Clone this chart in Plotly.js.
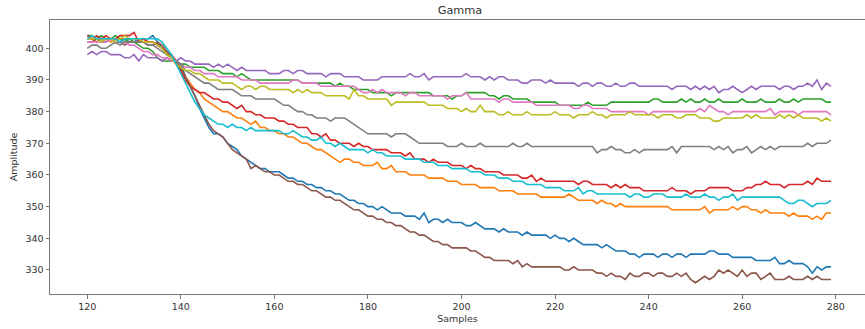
<!DOCTYPE html>
<html>
<head>
<meta charset="utf-8">
<script src="https://cdn.plot.ly/plotly-3.0.1.min.js"></script>
<style>html,body{margin:0;padding:0;background:#fff;}#chart{width:865px;height:329px;}</style>
</head>
<body>
<div id="chart"></div>
<script>
const firstSample = 120;
const sampleCount = 160;
const samples = Array.from({length: sampleCount}, (_, i) => firstSample + i);

const s0 = [403,403,403,402,403,403,402,402,403,402, 402,403,403,403,404,402,400,398,397,396,
  395,391,388,385,381,378,375,373,373,372, 370,369,368,366,365,364,363,362,362,361,
  361,361,360,359,359,358,358,357,357,356, 356,355,355,354,354,353,352,352,351,351,
  350,350,349,350,349,348,348,348,347,347, 347,346,348,345,346,346,345,346,345,345,
  345,344,344,345,344,343,343,343,342,343, 342,342,342,341,342,341,341,341,341,340,
  341,340,340,339,340,339,338,338,338,338, 337,338,337,336,336,336,335,335,334,335,
  335,335,334,335,335,334,335,335,334,335, 335,335,335,336,336,335,335,335,334,334,
  334,334,334,333,333,333,333,334,332,332, 333,332,332,332,331,329,331,330,331,331];
const s1 = [403,403,402,403,403,402,403,403,403,403, 403,403,403,402,402,401,400,398,397,395,
  393,391,389,387,386,384,383,382,381,380, 380,379,378,378,377,376,377,375,375,374,
  374,373,373,372,372,371,370,370,369,368, 368,367,366,365,364,365,365,364,364,363,
  363,363,364,362,362,363,361,361,361,360, 360,360,360,359,359,359,359,358,358,358,
  357,357,357,357,356,356,356,356,355,355, 355,355,354,354,354,354,354,353,353,353,
  353,353,353,354,353,352,352,352,352,351, 352,351,351,350,351,350,350,350,350,350,
  350,350,350,350,350,349,349,349,349,349, 349,349,350,348,349,349,349,349,350,349,
  350,350,349,349,348,349,348,348,348,348, 347,348,347,347,347,346,347,346,348,348];
const s2 = [404,404,403,404,403,403,404,403,402,403, 402,401,400,400,399,397,396,396,396,396,
  395,395,394,394,394,394,393,393,393,392, 392,392,391,392,391,390,390,390,390,390,
  390,390,390,390,390,390,389,389,389,389, 389,389,389,388,389,388,388,387,387,387,
  387,386,386,386,386,385,386,386,386,386, 386,386,386,386,385,385,385,385,384,385,
  385,386,386,386,386,386,385,385,384,385, 385,384,384,384,384,383,383,383,383,383,
  383,382,382,382,382,382,382,383,382,382, 382,382,383,383,383,383,383,383,383,383,
  383,384,384,383,383,383,383,384,383,384, 383,383,384,383,383,384,383,383,383,383,
  384,383,383,383,384,383,383,383,384,383, 383,384,383,384,384,384,384,384,383,383];
const s3 = [404,403,404,403,404,403,403,404,404,404, 405,402,403,402,402,401,400,399,398,396,
  393,390,388,387,386,386,385,384,384,383, 383,382,381,382,380,380,379,379,378,378,
  378,377,377,376,376,375,375,375,373,373, 372,373,371,371,370,370,370,369,370,369,
  369,368,368,368,368,367,367,367,366,367, 365,365,365,364,365,364,364,364,363,363,
  363,362,363,362,362,361,361,361,361,360, 360,360,360,359,359,360,358,359,358,358,
  358,358,358,358,358,357,358,358,357,357, 357,357,356,357,356,357,356,356,356,355,
  355,355,355,355,355,356,355,355,355,354, 355,355,355,356,356,356,356,356,355,355,
  355,356,356,357,357,358,357,357,357,356, 357,357,357,357,358,357,359,358,358,358];
const s4 = [398,399,398,399,399,398,398,398,397,397, 398,396,398,397,397,397,396,397,396,396,
  397,396,396,395,395,395,395,394,395,394, 395,394,393,394,393,393,393,393,393,392,
  392,392,393,393,392,393,393,392,392,392, 392,391,392,392,392,391,391,391,391,390,
  390,390,390,391,391,391,391,391,391,392, 391,391,392,390,391,391,391,391,391,391,
  391,392,391,391,391,390,391,390,391,391, 390,390,390,389,389,390,390,390,389,390,
  389,389,389,389,389,388,389,389,388,389, 389,388,388,389,388,388,389,389,388,388,
  388,388,388,388,388,387,388,388,388,387, 388,387,388,387,388,386,387,387,388,387,
  386,387,388,387,388,388,388,388,387,388, 388,387,388,388,389,388,390,387,389,388];
const s5 = [402,402,403,402,402,403,402,402,401,402, 402,402,402,401,401,402,401,399,397,396,
  394,391,388,385,382,379,376,374,373,372, 370,368,367,366,365,362,363,362,361,361,
  360,360,359,358,358,357,357,356,355,355, 354,353,353,352,352,351,350,349,349,348,
  347,347,346,346,345,345,344,344,343,342, 342,341,341,340,339,339,338,338,337,337,
  337,337,336,336,335,334,334,333,333,333, 333,332,333,331,332,331,331,331,331,331,
  331,331,330,330,331,330,330,330,330,329, 329,328,329,328,328,327,329,328,328,329,
  329,328,329,329,328,328,329,328,329,327, 326,327,328,327,328,330,329,330,329,328,
  330,328,329,329,327,328,329,327,327,327, 328,327,327,327,328,327,328,327,327,327];
const s6 = [402,402,402,402,402,403,402,402,402,401, 401,400,399,399,398,398,397,397,396,396,
  395,394,394,393,393,392,392,392,391,391, 391,391,391,390,390,390,390,389,389,389,
  389,389,389,389,390,390,389,389,389,389, 388,388,388,388,388,388,388,388,387,386,
  386,387,386,387,386,386,386,386,385,386, 386,385,385,385,385,385,385,384,385,385,
  385,386,384,384,384,384,384,384,383,384, 384,383,383,383,383,383,382,382,382,382,
  382,382,382,382,381,381,382,382,381,381, 381,381,380,380,380,380,380,380,380,380,
  379,380,380,380,380,380,380,380,380,380, 380,381,380,382,381,380,380,379,380,380,
  380,380,380,380,380,380,381,379,380,380, 380,380,379,380,380,380,380,380,380,379];
const s7 = [400,401,401,400,400,401,402,401,402,402, 402,402,402,401,401,400,399,398,397,396,
  395,393,392,391,390,389,389,388,387,387, 387,387,386,385,385,385,384,384,384,384,
  384,383,382,382,381,380,380,379,379,378, 378,378,377,378,378,378,377,376,375,374,
  373,373,373,373,373,372,373,373,373,372, 371,370,370,370,370,370,370,369,369,369,
  370,369,369,369,370,369,369,369,369,369, 369,370,369,369,370,369,369,369,369,369,
  369,369,369,369,369,369,369,369,369,367, 368,368,369,368,368,367,367,368,367,368,
  368,368,368,368,368,369,367,369,369,369, 369,369,369,369,368,369,368,369,367,368,
  368,369,367,368,369,368,369,368,369,369, 369,369,369,369,370,369,370,370,370,371];
const s8 = [403,403,403,402,403,403,402,403,404,403, 403,403,402,402,402,401,400,398,397,395,
  394,393,393,392,392,391,390,390,390,389, 389,389,388,387,388,388,387,388,388,387,
  387,387,387,387,386,387,386,387,386,386, 386,385,385,385,385,385,384,387,385,385,
  384,384,384,384,384,382,383,383,383,383, 383,383,383,382,382,382,382,381,381,381,
  380,381,380,380,382,380,380,380,379,379, 380,379,379,379,380,379,379,379,379,379,
  380,379,379,379,378,379,379,379,380,379, 379,378,379,379,379,379,380,379,379,379,
  379,379,378,379,379,379,378,378,379,379, 379,378,378,378,377,377,378,378,378,378,
  378,379,378,379,378,378,378,378,379,378, 379,378,379,378,378,378,378,377,378,377];
const s9 = [403,404,403,403,403,403,403,402,403,403, 403,403,403,403,403,403,402,400,398,395,
  392,389,386,383,381,379,378,377,376,376, 375,376,375,375,374,375,374,374,374,374,
  374,374,373,373,374,373,372,372,371,371, 372,370,370,369,370,369,368,368,368,368,
  367,368,367,367,366,366,366,366,365,365, 365,365,364,364,364,363,363,363,362,362,
  362,362,361,361,361,360,360,360,359,359, 359,358,358,358,357,357,357,357,356,356,
  356,356,355,355,355,356,354,355,355,354, 354,354,354,354,354,354,353,354,354,353,
  353,354,354,354,353,353,353,353,354,353, 353,353,354,353,353,352,353,353,354,352,
  353,353,353,353,353,353,353,353,353,352, 351,351,352,352,351,350,351,351,351,352];

const seriesValues = [s0, s1, s2, s3, s4, s5, s6, s7, s8, s9];
const colors = ['#1f77b4','#ff7f0e','#2ca02c','#d62728','#9467bd','#8c564b','#e377c2','#7f7f7f','#bcbd22','#17becf'];
const xTicks = [120,140,160,180,200,220,240,260,280];
const yTicks = [330,340,350,360,370,380,390,400];

const traces = seriesValues.map((vals, i) => ({
  x: samples, y: vals, type: 'scatter', mode: 'lines',
  line: {color: colors[i], width: 1.6}, hoverinfo: 'skip', showlegend: false
}));

const font = {family: 'DejaVu Sans, sans-serif', size: 9.5, color: '#333'};
const layout = {
  width: 865, height: 329,
  margin: {l: 50, r: 0, t: 20, b: 35, pad: 0},
  paper_bgcolor: '#fff', plot_bgcolor: '#fff',
  font: font,
  title: {text: 'Gamma', font: {family: 'DejaVu Sans, sans-serif', size: 11.3, color: '#333'},
          x: 460/865, xref: 'container', xanchor: 'center', y: 1 - 10/329, yref: 'container', yanchor: 'middle'},
  xaxis: {
    range: [112.03, 286.26], tickvals: xTicks, ticktext: xTicks.map(String),
    showgrid: false, zeroline: false, showline: true, mirror: true, linecolor: '#777', linewidth: 1,
    ticks: 'outside', ticklen: 3.5, tickcolor: '#777', tickfont: font,
    title: {text: 'Samples', font: font, standoff: 4}
  },
  yaxis: {
    range: [322.42, 408.94], tickvals: yTicks, ticktext: yTicks.map(String),
    showgrid: false, zeroline: false, showline: true, linecolor: '#777', linewidth: 1,
    ticks: 'outside', ticklen: 3.5, tickcolor: '#777', tickfont: font,
    title: {text: 'Amplitude', font: font, standoff: 6}
  }
};
Plotly.newPlot('chart', traces, layout, {staticPlot: true, displayModeBar: false});
</script>
</body>
</html>
